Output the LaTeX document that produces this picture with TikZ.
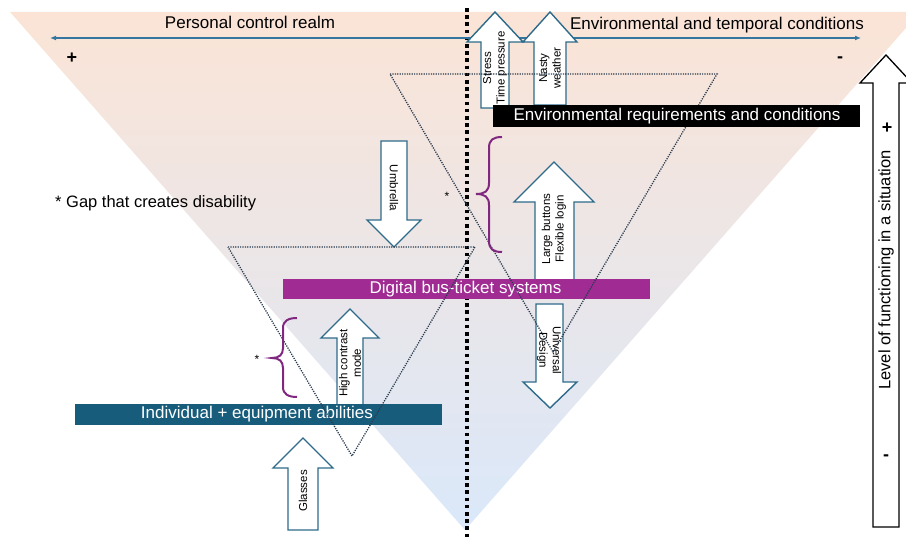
\documentclass[tikz,border=0pt]{standalone}
\usepackage{fontspec}
\setmainfont{Liberation Sans}
\usetikzlibrary{arrows.meta}
\definecolor{bgtop}{RGB}{251,228,214}
\definecolor{bgmid}{RGB}{241,233,242}
\definecolor{bgbot}{RGB}{218,232,250}
\definecolor{arrowc}{RGB}{46,107,138}
\definecolor{dblc}{RGB}{52,118,160}
\definecolor{tealbox}{RGB}{24,92,124}
\definecolor{purplebox}{RGB}{160,43,147}
\definecolor{bracec}{RGB}{128,40,128}
\definecolor{tric}{RGB}{40,58,78}
\begin{document}
\begin{tikzpicture}[x=1pt,y=-1pt,
  blk/.style={draw=arrowc, fill=white, line width=1.4pt, line join=miter},
  blkdark/.style={draw=black, fill=white, line width=1.3pt, line join=miter},
  tri/.style={draw=tric, line width=1.3pt, dash pattern=on 1.2pt off 1.2pt},
  brace/.style={draw=bracec, line width=2pt},
  big/.style={font=\fontsize{17}{20}\selectfont, inner sep=0pt, text=black},
  sign/.style={font=\fontsize{18}{20}\selectfont\bfseries, inner sep=0pt, text=black},
  boxlbl/.style={font=\fontsize{17}{20}\selectfont, inner sep=0pt, text=white},
  albl/.style={font=\fontsize{11.5}{13.5}\selectfont, inner sep=0pt, align=center, text=black},
  star/.style={font=\fontsize{12}{14}\selectfont, inner sep=0pt}]
\useasboundingbox (0,0) rectangle (906,537);
\begin{scope}
\clip (0,0) rectangle (906,537);
% background triangle
\shade[top color=bgtop, middle color=bgmid, bottom color=bgbot] (10,12) -- (920,12) -- (465,530) -- cycle;
% vertical dotted divider
\draw[line width=3.6pt, dash pattern=on 3.6pt off 3.6pt] (467,8) -- (467,537);
% double arrow
\coordinate (pl) at (50,38);
\coordinate (pr) at (861,38);
\draw[dblc, line width=1.6pt, {Latex[length=6pt,width=5pt]}-{Latex[length=6pt,width=5pt]}] (pl) -- (pr);
\node[big] (pcr) at (250,22) {Personal control realm};
\node[big] (etc) at (717,25) {Environmental and temporal conditions};
\node[sign] (plus1) at (72,58) {+};
\node[sign] (minus1) at (840,60) {-};
% block arrows
\draw[blk] (495,12) -- (523,42) -- (509,42) -- (509,108) -- (481,108) -- (481,42) -- (467,42) -- cycle;
\node[albl, rotate=90] (tstress) at (495,68) {Stress\\Time pressure};
\draw[blk] (550,12) -- (577,42) -- (566,42) -- (566,105) -- (534,105) -- (534,42) -- (523,42) -- cycle;
\node[albl, rotate=90] (tnasty) at (550,68) {Nasty\\weather};
\draw[blk] (381,141) -- (407,141) -- (407,220) -- (421,220) -- (394,247) -- (367,220) -- (381,220) -- cycle;
\node[albl, rotate=-90] (tumb) at (394,188) {Umbrella};
\draw[blk] (554,162) -- (594,202) -- (574,202) -- (574,284) -- (535,284) -- (535,202) -- (514,202) -- cycle;
\node[albl, rotate=90] (tlarge) at (554,229) {Large buttons\\Flexible login};
\draw[blk] (350,309) -- (379,338) -- (363,338) -- (363,406) -- (337,406) -- (337,338) -- (321,338) -- cycle;
\node[albl, rotate=90] (thigh) at (350,363) {High contrast\\mode};
\draw[blk] (536,304) -- (563,304) -- (563,382) -- (577,382) -- (550,408) -- (523,382) -- (536,382) -- cycle;
\node[albl, rotate=-90] (tuni) at (549,350) {Universal\\Design};
\draw[blk] (303,438) -- (333,468) -- (318,468) -- (318,530) -- (288,530) -- (288,468) -- (273,468) -- cycle;
\node[albl, rotate=90] (tglass) at (303,491) {Glasses};
\draw[blkdark] (886,55) -- (912,83) -- (899,83) -- (899,527) -- (873,527) -- (873,83) -- (860,83) -- cycle;
\node[font=\fontsize{16.5}{19}\selectfont, inner sep=0pt, rotate=90] (tlevel) at (886,270) {Level of functioning in a situation};
\node[sign] (plus2) at (887,128) {+};
\node[sign] (minus2) at (886,458) {-};
% boxes
\node[fill=purplebox, minimum width=367pt, minimum height=20pt, inner sep=0pt, anchor=north west] (digital) at (283,279) {};
\node[boxlbl] (tdigital) at (465.5,289.5) {Digital bus-ticket systems};
\node[fill=tealbox, minimum width=367pt, minimum height=21pt, inner sep=0pt, anchor=north west] (indiv) at (75,404) {};
\node[boxlbl] (tindiv) at (257,414.5) {Individual + equipment abilities};
% dotted triangles
\draw[tri] (390,74) -- (717,74) -- (553,352) -- cycle;
\draw[tri] (228,247) -- (475,247) -- (352,456) -- cycle;
% black box
\node[fill=black, minimum width=367pt, minimum height=22pt, inner sep=0pt, anchor=north west] (envreq) at (493,105) {};
\node[boxlbl] (tenvreq) at (677,116) {Environmental requirements and conditions};
% braces
\draw[brace] (502,137) .. controls (493,137) and (489,140) .. (489,148) -- (489,183) .. controls (489,191) and (485,194) .. (476,194) .. controls (485,194) and (489,197) .. (489,205) -- (489,241) .. controls (489,249) and (493,252) .. (502,252);
\draw[brace] (297,318) .. controls (288,318) and (283,321) .. (283,328) -- (283,348) .. controls (283,355) and (279,358) .. (272,358) .. controls (279,358) and (283,361) .. (283,368) -- (283,387) .. controls (283,394) and (288,397) .. (297,397);
\node[star] (star1) at (447,196) {*};
\node[star] (star2) at (257,359) {*};
\node[font=\fontsize{16.5}{19}\selectfont, inner sep=0pt, anchor=west] (gap) at (55,203) {* Gap that creates disability};
\end{scope}
\end{tikzpicture}
\end{document}
